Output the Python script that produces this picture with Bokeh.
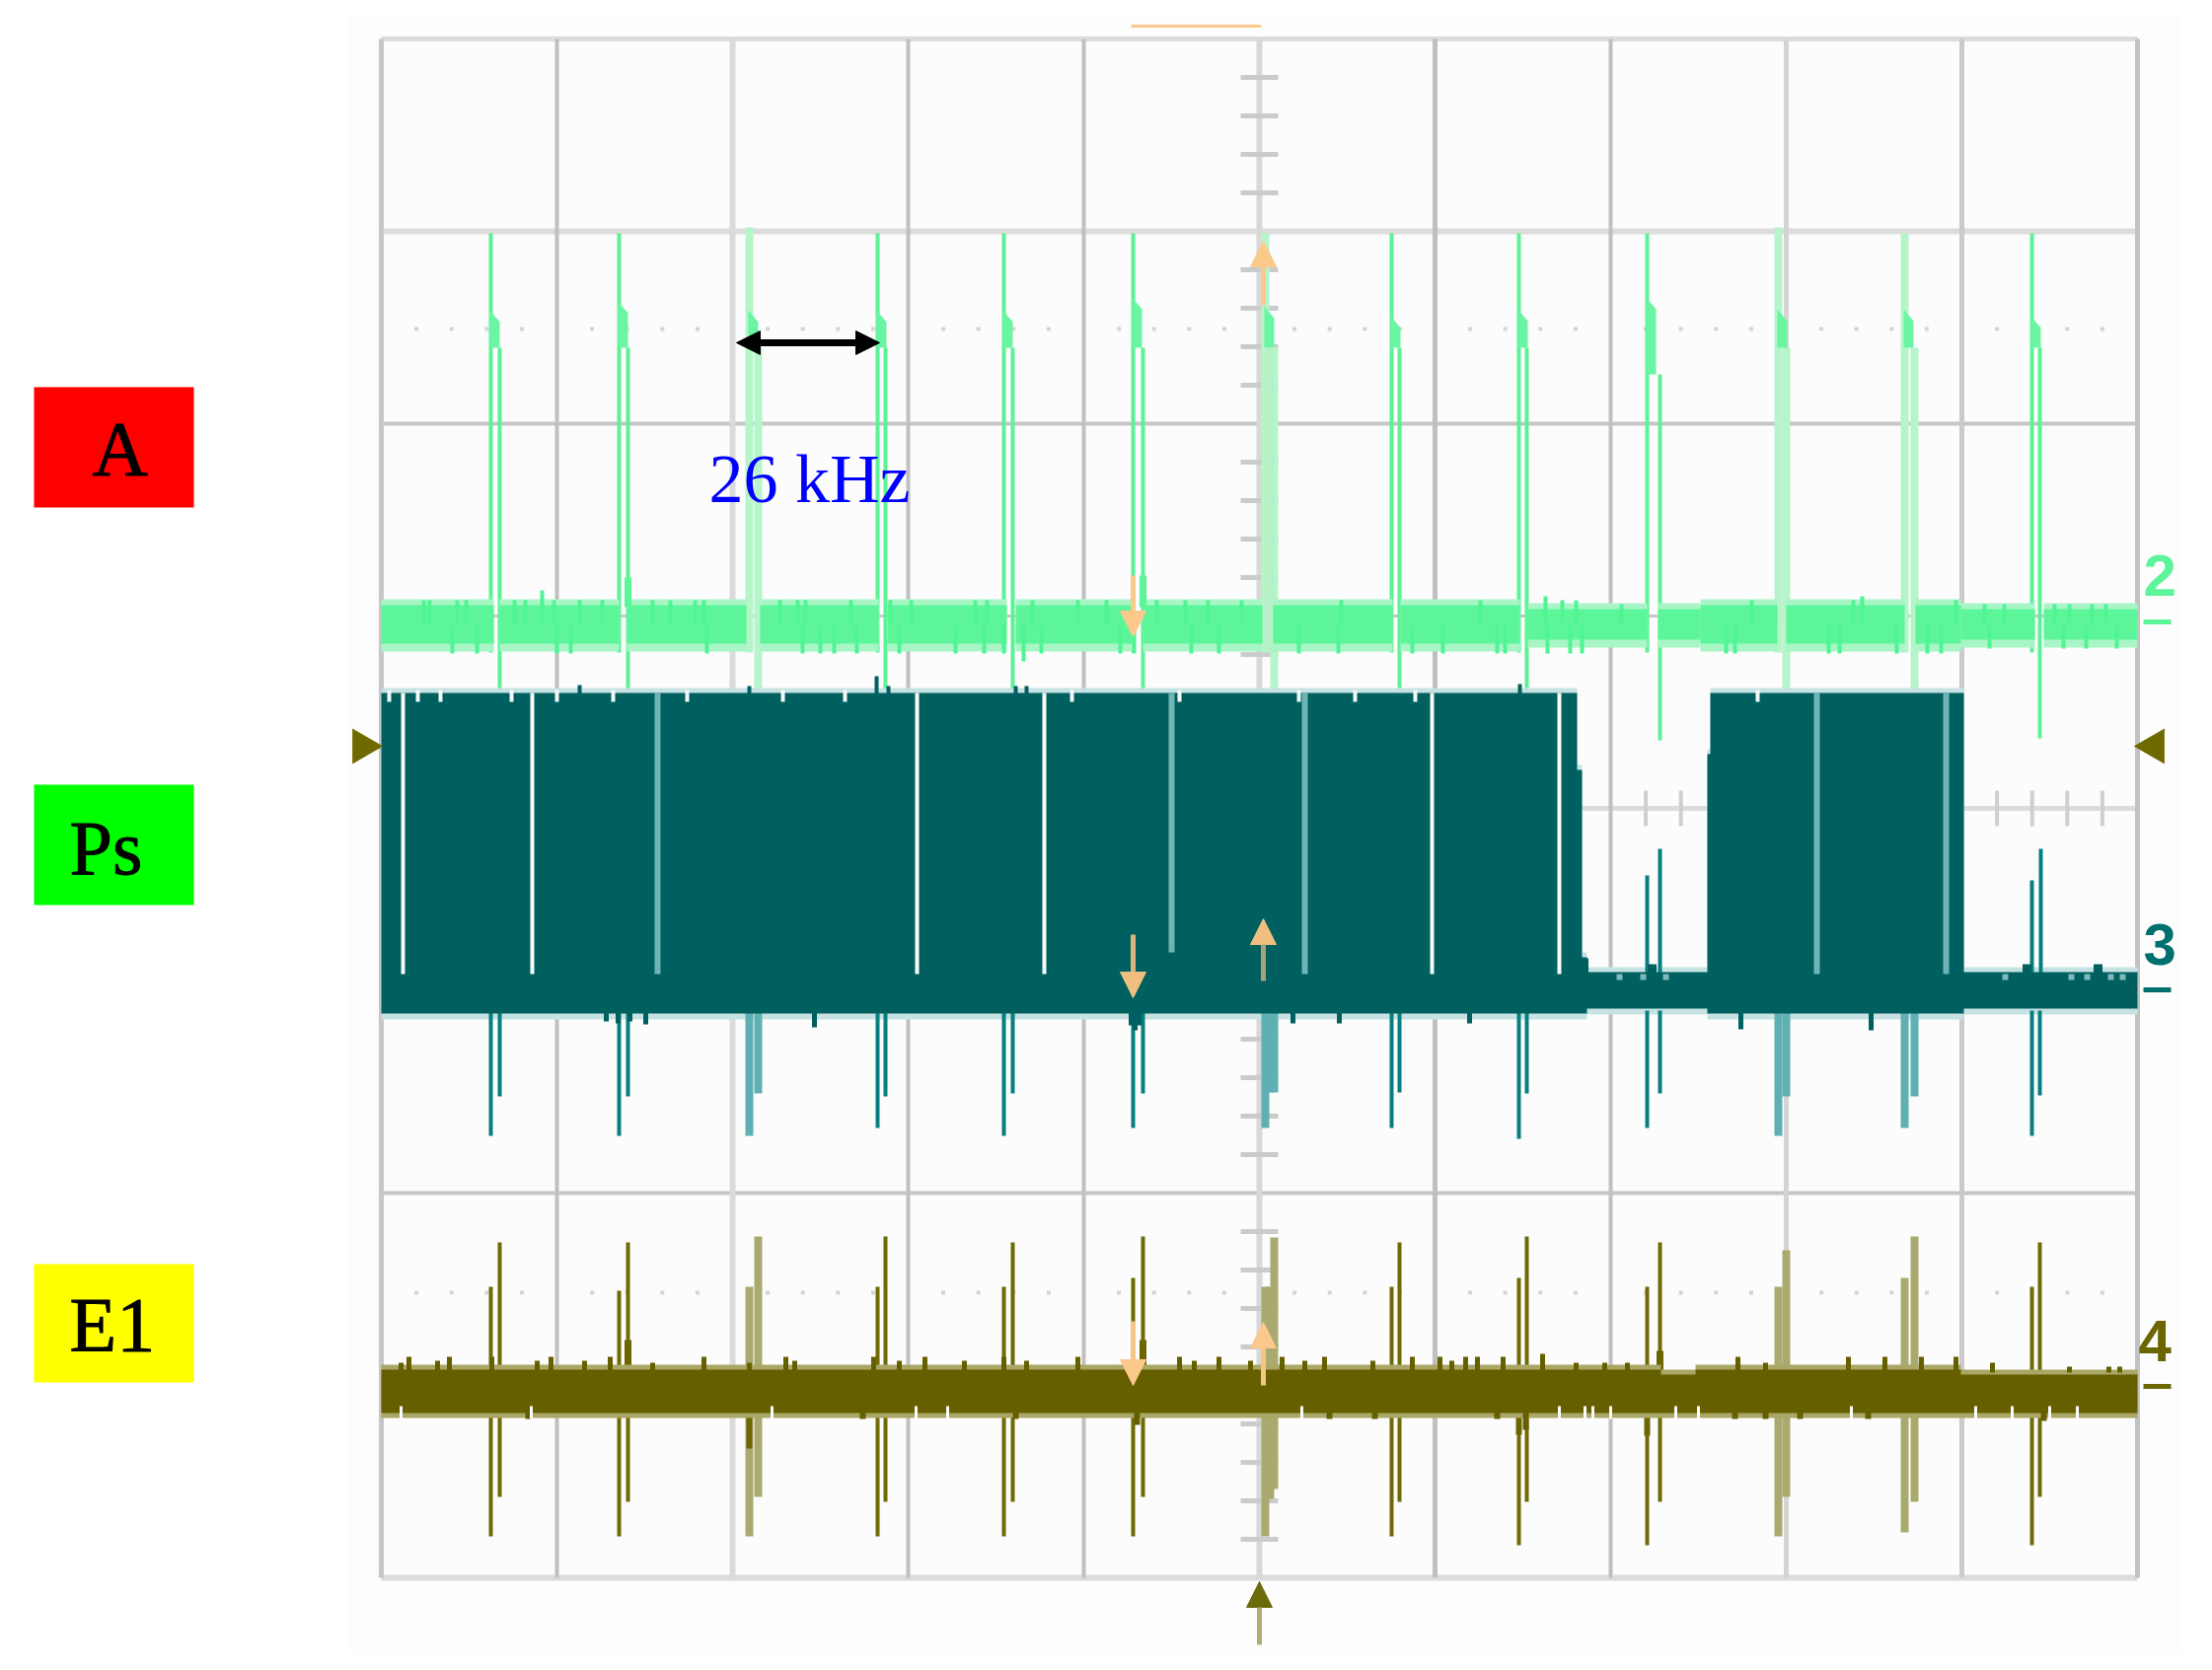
from bokeh.core.properties import value
from bokeh.embed import file_html
from bokeh.models import Arrow, NormalHead, Range1d
from bokeh.plotting import figure
from bokeh.resources import INLINE
import math

# scope record: x in samples (178 per division), y in levels (195 per division)
SAMPLES_PER_DIV = 178
LEVELS_PER_DIV = 195

# the 13 pulse pairs, same timing on all channels
first_spike = [111, 241, 373, 503, 631, 762, 896, 1024, 1153, 1283, 1416, 1544, 1673]
second_spike = [120, 250, 382, 511, 640, 772, 905, 1032, 1161, 1296, 1424, 1554, 1681]
pale_spike = [0, 0, 1, 0, 0, 0, 1, 0, 0, 0, 1, 1, 0]

# channel 2 (green)
ch2_start = [0, 120, 249, 384, 513, 643, 772, 904, 1033, 1162, 1294, 1337, 1424, 1555, 1601, 1685]
ch2_end = [114, 241, 370, 504, 634, 762, 893, 1025, 1154, 1283, 1337, 1415, 1544, 1601, 1676, 1780]
ch2_top = [206, 206, 206, 206, 206, 206, 206, 206, 206, 202, 202, 206, 206, 206, 202, 202]
ch2_bottom = [167, 167, 167, 167, 167, 167, 167, 167, 167, 171, 171, 167, 167, 167, 171, 171]
ch2_spike_top = [583, 583, 589, 583, 583, 583, 583, 583, 583, 583, 589, 583, 583]
ch2_blob_top = [505, 514, 505, 505, 505, 518, 509, 499, 506, 518, 506, 506, 499]
ch2_blob_bottom = [467, 467, 467, 467, 467, 467, 467, 467, 467, 440, 467, 467, 467]
ch2_second_bottom = [110, 110, 112, 110, 115, 115, 115, 115, 120, 69, 112, 112, 71]
ch2_up_x = [43, 49, 77, 86, 135, 146, 163, 175, 201, 224, 275, 293, 318, 327, 404, 422, 430, 476, 516,
            537, 602, 614, 660, 706, 735, 786, 815, 838, 872, 973, 1114, 1180, 1197, 1211, 1257, 1389,
            1492, 1501, 1596, 1625, 1645, 1696, 1711, 1734, 1748]
ch2_up_y = [211, 211, 211, 211, 211, 211, 221, 211, 211, 211, 211, 211, 211, 211, 211, 211, 211, 211, 211,
            211, 211, 211, 211, 211, 211, 211, 211, 211, 211, 211, 211, 215, 211, 211, 207, 211,
            211, 215, 211, 207, 207, 207, 207, 207, 207]
ch2_down_x = [72, 97, 178, 192, 330, 427, 445, 459, 482, 525, 582, 611, 631, 651, 669, 749, 763, 821, 849,
              930, 970, 1045, 1076, 1131, 1139, 1182, 1205, 1217, 1363, 1372, 1467, 1478, 1536, 1567,
              1581, 1630, 1705, 1728, 1759]
ch2_down_y = [157, 157, 157, 157, 157, 157, 157, 157, 157, 157, 157, 157, 157, 149, 157, 157, 157, 157, 157,
              157, 157, 157, 157, 157, 157, 157, 157, 157, 157, 157, 157, 157, 157, 157,
              157, 162, 162, 162, 162]
ch2_stub_x = [250, 772]
ch2_stub_top = [234, 236]

# channel 3 (teal): carrier bursts, then the baseline between them
ch3_edge = [0, 1212, 1217, 1222, 1344, 1347, 1604, 1780]
ch3_top = [117, 39, -151, -166, 55, 117, -166, -166]
ch3_bottom = [-208, -208, -208, -203, -208, -208, -203, -203]
ch3_first_down = [-332, -332, -332, -324, -332, -324, -324, -324, -335, -324, -332, -324, -332]
ch3_second_down = [-292, -292, -289, -292, -289, -289, -288, -288, -289, -289, -292, -292, -291]
ch3_up_x = [1283, 1296, 1673, 1682]
ch3_up_y = [-68, -41, -73, -41]
ch3_gap_x = [22, 153, 280, 543, 672, 801, 936, 1065, 1194, 1455, 1586]
ch3_gap_bottom = [-168, -168, -168, -168, -168, -146, -168, -168, -168, -168, -168]
ch3_gap_pale = [0, 0, 1, 0, 0, 1, 1, 0, 0, 1, 1]
ch3_notch_x = [8, 37, 60, 132, 178, 235, 310, 407, 470, 700, 809, 930, 987, 1048, 1395]
ch3_peak_x = [201, 373, 502, 514, 643, 654, 1154]
ch3_peak_y = [125, 124, 134, 124, 124, 124, 126]
ch3_low_x = [228, 240, 252, 268, 439, 760, 764, 768, 924, 971, 1103, 1378, 1510]
ch3_low_y = [-216, -218, -216, -219, -222, -220, -225, -220, -218, -218, -218, -224, -225]
ch3_base_bump_x = [1219, 1668, 1288, 1740]
ch3_base_bump_y = [-152, -158, -158, -158]
ch3_base_notch_x = [1255, 1279, 1302, 1646, 1713, 1729, 1753, 1765]

# channel 4 (olive)
ch4_edge = [0, 1297, 1332, 1601, 1780]
ch4_top = [-569, -574, -569, -574, -574]
ch4_bottom = -613
ch4_first_up = [-485, -489, -485, -485, -485, -476, -485, -485, -476, -485, -485, -476, -485]
ch4_second_up = [-440, -440, -434, -434, -440, -434, -435, -440, -434, -440, -448, -434, -440]
ch4_first_down = [-738, -738, -738, -738, -738, -738, -738, -738, -747, -747, -738, -734, -747]
ch4_second_down = [-698, -703, -698, -703, -703, -698, -690, -703, -703, -703, -698, -703, -698]
ch4_up_x = [20, 28, 57, 69, 112, 158, 172, 206, 232, 275, 327, 373, 410, 419, 499, 525, 551, 591, 631, 654,
            706, 766, 809, 824, 849, 881, 913, 936, 956, 1005, 1045, 1073, 1085, 1099, 1111, 1137, 1177,
            1211, 1240, 1263, 1375, 1403, 1487, 1524, 1561, 1596, 1633, 1711, 1751, 1762]
ch4_up_y = [-562, -556, -560, -556, -556, -560, -556, -560, -556, -562, -556, -562, -556, -560, -556, -560,
            -556, -560, -556, -560, -556, -560, -556, -560, -556, -560, -556, -560, -556, -560, -556, -556,
            -560, -556, -556, -556, -553, -562, -562, -562, -556, -562, -556, -556, -556, -556, -562, -566,
            -566, -566]
ch4_low_x = [149, 488, 643, 766, 961, 1007, 1131, 1160, 1372, 1403, 1438, 1507, 1685]
ch4_low_y = [-619, -619, -619, -625, -619, -619, -619, -630, -619, -619, -619, -619, -621]
ch4_notch_x = [20, 152, 396, 542, 574, 933, 1194, 1220, 1228, 1246, 1312, 1335, 1490, 1616, 1653, 1691, 1719]
ch4_stub_x = [250, 772, 1296]
ch4_stub_top = [-539, -539, -550]
ch4_stub_low_x = [373, 1153, 1283]
ch4_stub_low_y = [-649, -635, -636]

# cursor arrows
cursor_x = [894, 762, 762, 894, 762, 894, 890]
cursor_from = [510, 236, -128, -175, -520, -585, -848]
cursor_to = [575, 174, -192, -112, -585, -521, -784]
cursor_line = ["#fbc98c", "#fbc98c", "#dcb37a", "#a9a376", "#f6c683", "#f6c683", "#aeae72"]
cursor_head = ["#fbc98c", "#fbc98c", "#f0bf80", "#f0bf80", "#fbc98c", "#fbc98c", "#6b6b0c"]

trace_labels = ["2", "3", "4"]
trace_label_x = [1786, 1786, 1781]
trace_label_y = [236, -138, -540]
trace_dash_y = [189, -184, -586]
trace_colors = ["#5df59a", "#00706f", "#6b6600"]

boxes = ["A", "Ps", "E1"]
box_top = [427, 24, -462]
box_bottom = [305, -98, -582]
box_colors = ["#ff0000", "#00ff00", "#ffff00"]
box_text_x = [-293, -316, -316]
box_text_y = [365, -40, -523]

H_MAJOR_STYLE = [(5, "#dcdcdc"), (6, "#dcdcdc"), (4, "#c6c6c6"), (3, "#c8c8c8"), (5, "#dcdcdc"),
                 (3, "#c8c8c8"), (4, "#c6c6c6"), (3, "#c8c8c8"), (6, "#dcdcdc")]
V_MAJOR_STYLE = [(5, "#c6c6c6"), (4, "#c0c0c0"), (6, "#dadada"), (4, "#c0c0c0"), (4, "#c0c0c0"), (6, "#d8d8d8"),
                 (5, "#c0c0c0"), (4, "#c0c0c0"), (5, "#d4d4d4"), (5, "#cacaca"), (5, "#c2c2c2")]

p = figure(width=2226, height=1677, x_range=Range1d(-386, 1840), y_range=Range1d(-858, 819),
           output_backend="svg", toolbar_location=None, min_border=0, outline_line_color=None,
           background_fill_color="white", border_fill_color="white")
p.axis.visible = False
p.grid.visible = False

# faint scan background and screen
p.quad(left=[-32], right=[1824], top=[805], bottom=[-858], fill_color="#fdfdfd", line_color=None)
x_left, x_right = 0, 10 * SAMPLES_PER_DIV
y_top, y_bottom = 4 * LEVELS_PER_DIV, -4 * LEVELS_PER_DIV
p.quad(left=[x_left], right=[x_right], top=[y_top], bottom=[y_bottom], fill_color="#fcfcfc", line_color=None)

# graticule
for i, (w, c) in enumerate(H_MAJOR_STYLE):
    y = y_top - i * LEVELS_PER_DIV
    p.segment(x_left, y, x_right, y, line_color=c, line_width=w)
for i, (w, c) in enumerate(V_MAJOR_STYLE):
    x = i * SAMPLES_PER_DIV
    p.segment(x, y_bottom, x, y_top, line_color=c, line_width=w)

minor_x = [i * SAMPLES_PER_DIV / 5 for i in range(51) if i % 5]
minor_y = [i * LEVELS_PER_DIV / 5 for i in range(-20, 21) if i % 5]
cx = 5 * SAMPLES_PER_DIV
p.segment(x0=[cx - 19] * len(minor_y), y0=minor_y, x1=[cx + 19] * len(minor_y), y1=minor_y,
          line_color="#cbcbcb", line_width=5)
p.segment(x0=minor_x, y0=[-18] * len(minor_x), x1=minor_x, y1=[18] * len(minor_x),
          line_color="#cfcfcf", line_width=4)
dot_x = minor_x * 2
dot_y = [486] * len(minor_x) + [-491] * len(minor_x)
p.scatter(dot_x, dot_y, marker="square", size=4, fill_color="#d4d4d4", line_color=None)


def spike_style(dark, pale):
    colors = [pale if f else dark for f in pale_spike]
    widths = [8 if f else 4 for f in pale_spike]
    return colors, widths


# channel 2
col, wid = spike_style("#5cf296", "#b5f5c9")
p.segment(x0=first_spike, y0=ch2_spike_top, x1=first_spike, y1=[158] * 13, line_color=col, line_width=wid)
p.segment(x0=second_spike, y0=ch2_blob_bottom, x1=second_spike, y1=ch2_second_bottom, line_color=col, line_width=wid)
p.patches(xs=[[a - 1, a - 1, a + 9, a + 9] for a in first_spike],
          ys=[[t, b, b, t - 12] for t, b in zip(ch2_blob_top, ch2_blob_bottom)],
          fill_color="#6af5a2", line_color=None)
p.quad(left=[first_spike[6]], right=[second_spike[6]], top=[467], bottom=[158], fill_color="#b5f0c6", line_color=None)
p.quad(left=ch2_start, right=ch2_end, top=[t + 6 for t in ch2_top], bottom=[b - 8 for b in ch2_bottom],
       fill_color="#a8f6c6", line_color=None)
p.quad(left=ch2_start, right=ch2_end, top=ch2_top, bottom=ch2_bottom, fill_color="#5df59a", line_color=None)
p.segment(x0=ch2_up_x, y0=ch2_up_y, x1=ch2_up_x, y1=[186] * len(ch2_up_x), line_color="#4ff593", line_width=4)
p.segment(x0=ch2_down_x, y0=ch2_down_y, x1=ch2_down_x, y1=[186] * len(ch2_down_x), line_color="#4ff593", line_width=4)
p.segment(x0=ch2_stub_x, y0=ch2_stub_top, x1=ch2_stub_x, y1=[204, 204], line_color="#5df59a", line_width=7)

# channel 3
p.varea_step(x=ch3_edge, y1=[t + 5 for t in ch3_top], y2=[b - 6 for b in ch3_bottom], step_mode="after",
             fill_color="#c6e2e2")
col, wid = spike_style("#077f80", "#5fb0b2")
p.segment(x0=first_spike, y0=[-205] * 13, x1=first_spike, y1=ch3_first_down, line_color=col, line_width=wid)
p.segment(x0=second_spike, y0=[-205] * 13, x1=second_spike, y1=ch3_second_down, line_color=col, line_width=wid)
p.quad(left=[first_spike[6]], right=[second_spike[6]], top=[-205], bottom=[-288], fill_color="#5fb0b2", line_color=None)
p.segment(x0=ch3_up_x, y0=ch3_up_y, x1=ch3_up_x, y1=[-170] * 4, line_color="#077f80", line_width=4)
p.varea_step(x=ch3_edge, y1=ch3_top, y2=ch3_bottom, step_mode="after", fill_color="#00605f")
p.segment(x0=ch3_notch_x, y0=[120] * len(ch3_notch_x), x1=ch3_notch_x, y1=[108] * len(ch3_notch_x),
          line_color="#f4f8f8", line_width=4)
p.segment(x0=ch3_peak_x, y0=ch3_peak_y, x1=ch3_peak_x, y1=[112] * len(ch3_peak_x), line_color="#00605f", line_width=4)
p.segment(x0=ch3_low_x, y0=ch3_low_y, x1=ch3_low_x, y1=[-204] * len(ch3_low_x), line_color="#00605f", line_width=5)
p.segment(x0=ch3_base_bump_x, y0=ch3_base_bump_y, x1=ch3_base_bump_x, y1=[-170] * 4, line_color="#00605f", line_width=9)
p.segment(x0=ch3_base_notch_x, y0=[-168] * 8, x1=ch3_base_notch_x, y1=[-174] * 8, line_color="#7fb8b8", line_width=6)
p.segment(x0=ch3_gap_x, y0=[117] * len(ch3_gap_x), x1=ch3_gap_x, y1=ch3_gap_bottom,
          line_color=["#6fb5b5" if f else "#f7fbfb" for f in ch3_gap_pale],
          line_width=[6 if f else 4 for f in ch3_gap_pale])

# channel 4
col, wid = spike_style("#6e6a06", "#aaa96f")
p.segment(x0=first_spike, y0=ch4_first_up, x1=first_spike, y1=ch4_first_down, line_color=col, line_width=wid)
p.segment(x0=second_spike, y0=ch4_second_up, x1=second_spike, y1=ch4_second_down, line_color=col, line_width=wid)
p.quad(left=[first_spike[6]], right=[second_spike[6]], top=[-485], bottom=[-700], fill_color="#aaa96f", line_color=None)
p.segment(x0=ch4_stub_x, y0=ch4_stub_top, x1=ch4_stub_x, y1=[-575] * 3, line_color="#6b6600", line_width=7)
p.segment(x0=ch4_stub_low_x, y0=ch4_stub_low_y, x1=ch4_stub_low_x, y1=[-605] * 3, line_color="#6b6600", line_width=6)
p.varea_step(x=ch4_edge, y1=[t + 5 for t in ch4_top], y2=[ch4_bottom - 5] * len(ch4_edge), step_mode="after",
             fill_color="#aaa766")
p.varea_step(x=ch4_edge, y1=ch4_top, y2=[ch4_bottom] * len(ch4_edge), step_mode="after", fill_color="#665f00")
p.segment(x0=ch4_up_x, y0=ch4_up_y, x1=ch4_up_x, y1=[-572] * len(ch4_up_x), line_color="#665f00", line_width=5)
p.segment(x0=ch4_low_x, y0=ch4_low_y, x1=ch4_low_x, y1=[-605] * len(ch4_low_x), line_color="#665f00", line_width=6)
p.segment(x0=ch4_notch_x, y0=[-606] * len(ch4_notch_x), x1=ch4_notch_x, y1=[-619] * len(ch4_notch_x),
          line_color="#fbfbfb", line_width=3)

# cursors, ground markers, channel marks
p.segment(760, 793, 892, 793, line_color="#fbc98c", line_width=3)
for x, a, b, lc, hc in zip(cursor_x, cursor_from, cursor_to, cursor_line, cursor_head):
    p.add_layout(Arrow(end=NormalHead(size=26, fill_color=hc, line_color=hc, line_width=1),
                       x_start=x, y_start=a, x_end=x, y_end=b, line_color=lc, line_width=5))
p.scatter([-19], [63], marker="triangle", size=36, angle=-math.pi / 2, fill_color="#6f6a00", line_color=None)
p.scatter([1797], [63], marker="triangle", size=36, angle=math.pi / 2, fill_color="#6f6a00", line_color=None)

p.text(x=trace_label_x, y=trace_label_y, text=trace_labels, text_color=trace_colors,
       text_font=value("Liberation Sans"), text_font_size=value("60px"), text_font_style="bold",
       text_baseline="middle", text_align="left")
p.segment(x0=[1786] * 3, y0=trace_dash_y, x1=[1814] * 3, y1=trace_dash_y, line_color=trace_colors, line_width=5)

# letter boxes
p.quad(left=[-352] * 3, right=[-190] * 3, top=box_top, bottom=box_bottom, fill_color=box_colors, line_color=None)
p.text(x=box_text_x, y=box_text_y, text=boxes, text_color="black", text_font=value("Liberation Serif"),
       text_font_size=value("78px"), text_baseline="middle", text_align="left",
       text_outline_color="black")

# period marker
p.add_layout(Arrow(start=NormalHead(size=24, fill_color="black", line_color="black"),
                   end=NormalHead(size=24, fill_color="black", line_color="black"),
                   x_start=360, y_start=472, x_end=505, y_end=472, line_color="black", line_width=7))
p.text(x=[332], y=[334], text=["26 kHz"], text_color="#0000ff", text_font=value("Liberation Serif"),
       text_font_size=value("70px"), text_baseline="middle", text_align="left")

open("out.html", "w").write(file_html(p, INLINE))
